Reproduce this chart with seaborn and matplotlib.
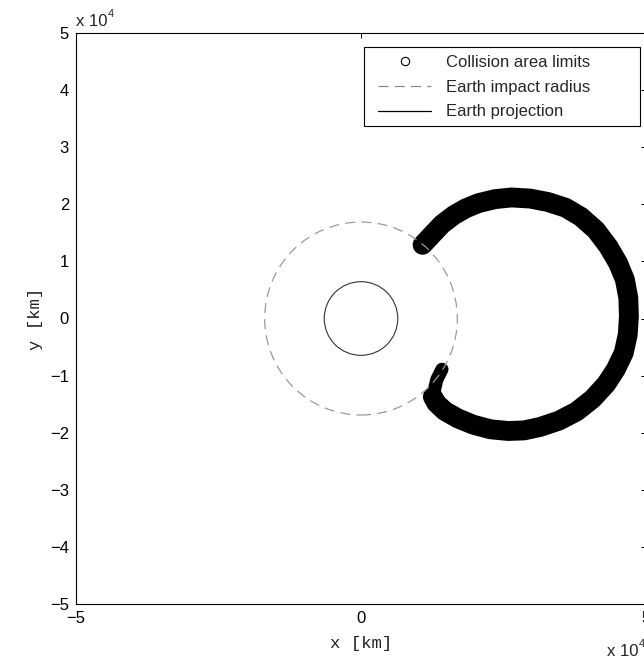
import matplotlib
matplotlib.use("Agg")
import matplotlib.pyplot as plt
import seaborn as sns
from matplotlib.patches import Circle, Rectangle
from matplotlib.lines import Line2D
from matplotlib.ticker import FuncFormatter, FixedLocator

# ---------------- data (km) ----------------
# centre line of the collision-area band
arc_x = [10.8e3, 12.4e3, 14.2e3, 16.3e3, 18.4e3, 20.6e3, 23.5e3, 26.4e3, 29.7e3,
         32.8e3, 35.9e3, 38.6e3, 41.2e3, 43.4e3, 45.1e3, 46.3e3, 46.9e3, 47.0e3,
         46.8e3, 46.1e3, 44.7e3, 43.0e3, 40.6e3, 37.8e3, 34.7e3, 31.4e3, 28.6e3,
         25.8e3, 22.7e3, 19.7e3, 17.0e3, 14.7e3, 13.2e3, 12.6e3]
arc_y = [12.9e3, 14.6e3, 16.5e3, 18.1e3, 19.3e3, 20.2e3, 20.9e3, 21.2e3, 21.0e3,
         20.4e3, 19.4e3, 17.8e3, 15.5e3, 12.6e3, 9.7e3, 6.8e3, 3.6e3, 0.4e3,
         -2.8e3, -6.0e3, -8.9e3, -11.5e3, -14.1e3, -16.3e3, -17.9e3, -19.0e3, -19.6e3,
         -19.7e3, -19.4e3, -18.6e3, -17.5e3, -16.2e3, -14.8e3, -13.7e3]
# narrow hook at the lower end of the band
hook_x = [12.6e3, 13.3e3, 14.2e3]
hook_y = [-13.7e3, -10.7e3, -8.9e3]

earth_radius = 6450.0          # Earth projection
impact_radius = 16900.0        # Earth impact radius

x_ticks = [-5e4, 0, 5e4]
y_ticks = [-5e4, -4e4, -3e4, -2e4, -1e4, 0, 1e4, 2e4, 3e4, 4e4, 5e4]
legend_labels = ["Collision area limits", "Earth impact radius", "Earth projection"]

# ---------------- style ----------------
sns.set_style("white")
plt.rcParams["font.family"] = ["Liberation Sans", "DejaVu Sans"]

W, H = 644, 658
fig = plt.figure(figsize=(W / 100, H / 100), dpi=100)
ax = fig.add_axes([76 / W, 54 / H, 570 / W, 571 / H])

sns.lineplot(x=arc_x, y=arc_y, sort=False, estimator=None, color="black",
             linewidth=14.3, solid_capstyle="round", solid_joinstyle="round",
             ax=ax, zorder=2)
sns.lineplot(x=hook_x, y=hook_y, sort=False, estimator=None, color="black",
             linewidth=9.5, solid_capstyle="round", solid_joinstyle="round",
             ax=ax, zorder=2)

ax.add_patch(Circle((0, 0), impact_radius, fill=False, ec="#9a9a9a", lw=0.9,
                    ls=(0, (8, 5)), zorder=3))
ax.add_patch(Circle((0, 0), earth_radius, fill=False, ec="#333333", lw=0.8,
                    zorder=3))

ax.set_xlim(-5e4, 5e4)
ax.set_ylim(-5e4, 5e4)
ax.xaxis.set_major_locator(FixedLocator(x_ticks))
ax.yaxis.set_major_locator(FixedLocator(y_ticks))
fmt = FuncFormatter(lambda v, p: f"{v / 1e4:g}".replace("-", "\u2212"))
ax.xaxis.set_major_formatter(fmt)
ax.yaxis.set_major_formatter(fmt)
ax.tick_params(direction="in", length=3.6, width=0.72, top=True, right=True,
               labelsize=12, colors="black")
ax.tick_params(axis="x", pad=5)
ax.tick_params(axis="y", pad=5)
for s in ax.spines.values():
    s.set_visible(True)
    s.set_color("black")
    s.set_linewidth(0.8)

ax.set_xlabel("x [km]", family="Liberation Mono", fontsize=12.5, color="#222222",
              labelpad=7.5)
ax.set_ylabel("y [km]", family="Liberation Mono", fontsize=12.5, color="#222222",
              labelpad=5)

# exponent texts
fig.text(76 / W, 1 - 26 / H, "x 10", fontsize=12, va="baseline", ha="left")
fig.text(108 / W, 1 - 17 / H, "4", fontsize=8, va="baseline", ha="left")
fig.text(607 / W, 1 - 656 / H, "x 10", fontsize=12, va="baseline", ha="left")
fig.text(639 / W, 1 - 647 / H, "4", fontsize=8, va="baseline", ha="left")

# legend
handles = [
    Line2D([], [], ls="none", marker="o", mfc="none", mec="black", ms=6, mew=0.8),
    Line2D([], [], ls=(0, (8, 5)), color="#8a8a8a", lw=0.9),
    Line2D([], [], color="black", lw=0.9),
]
fig.legend(handles, legend_labels, loc="upper left",
           bbox_to_anchor=(378 / W, 1 - 55 / H), frameon=False, fontsize=12,
           handlelength=3.2, handletextpad=0.9, borderpad=0, borderaxespad=0,
           labelspacing=0.58)
fig.add_artist(Rectangle((364 / W, 1 - 126 / H), 276 / W, 79 / H,
                         transform=fig.transFigure, fill=False, ec="black",
                         lw=0.8, zorder=5))

fig.savefig("out.png", dpi=100)
